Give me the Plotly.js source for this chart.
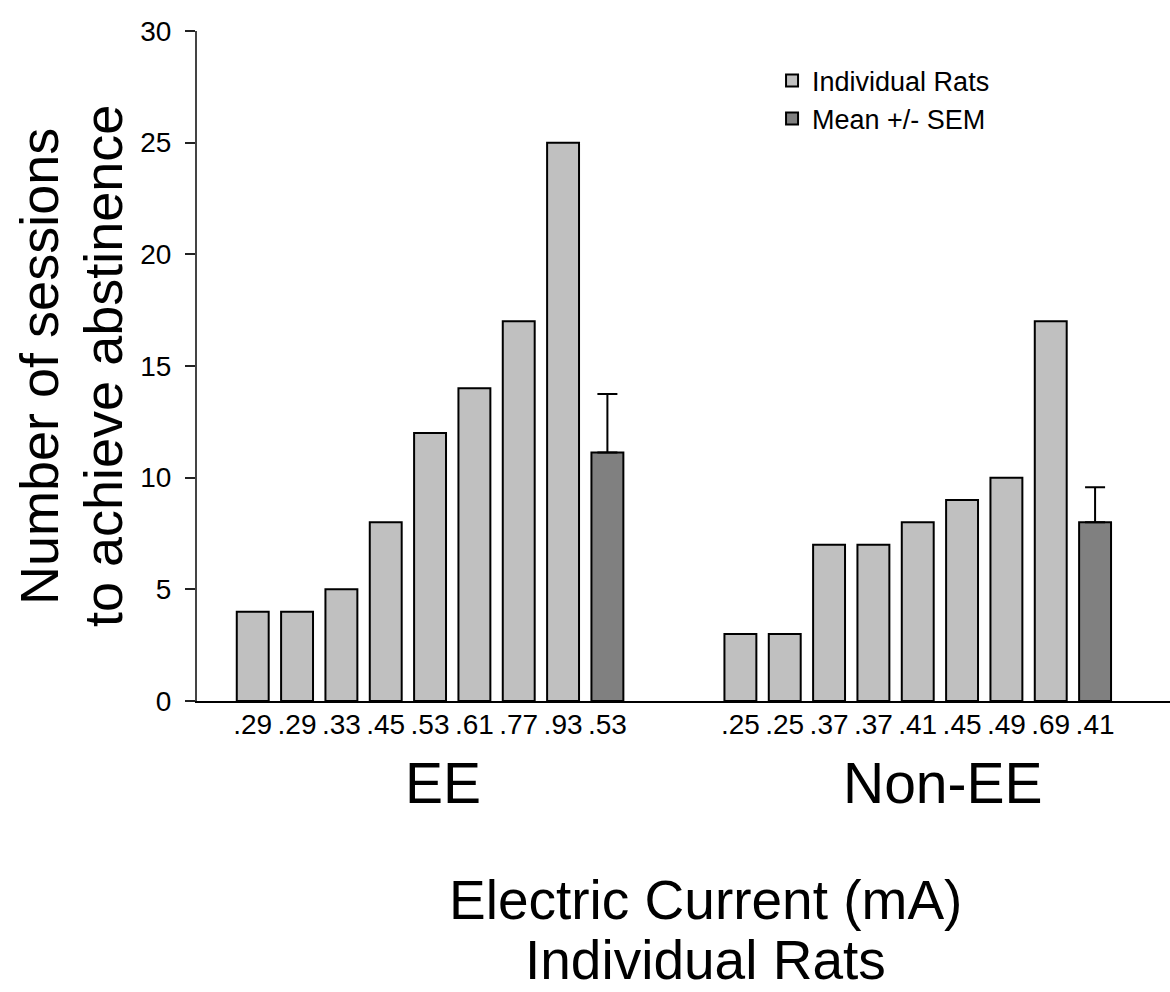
<!DOCTYPE html>
<html>
<head>
<meta charset="utf-8">
<script src="https://cdn.plot.ly/plotly-3.0.1.min.js"></script>
<style>
  html, body { margin: 0; padding: 0; background: #ffffff; }
  #chart { width: 1170px; height: 992px; }
</style>
</head>
<body>
<div id="chart"></div>
<script>
// ---- data ----
const groupNames = ['EE', 'Non-EE'];
const eeCurrents = ['.29', '.29', '.33', '.45', '.53', '.61', '.77', '.93'];
const eeSessions = [4, 4, 5, 8, 12, 14, 17, 25];
const eeMeanCurrent = '.53';
const eeMean = 11.13;
const eeSEM = 2.62;
const nonCurrents = ['.25', '.25', '.37', '.37', '.41', '.45', '.49', '.69'];
const nonSessions = [3, 3, 7, 7, 8, 9, 10, 17];
const nonMeanCurrent = '.41';
const nonMean = 8;
const nonSEM = 1.57;
const yTitleLines = ['Number of sessions', 'to achieve abstinence'];
const xTitleLines = ['Electric Current (mA)', 'Individual Rats'];
const legendNames = ['Individual Rats', 'Mean +/- SEM'];

// ---- layout: slot positions (EE group, 2 empty slots, Non-EE group) ----
const groupSize = eeSessions.length + 1;   // 8 rats + mean
const nonOffset = groupSize + 2;
const eeX = eeSessions.map((_, i) => i);
const nonX = nonSessions.map((_, i) => i + nonOffset);
const eeMeanX = eeSessions.length;
const nonMeanX = nonOffset + nonSessions.length;

const FONT = 'Liberation Sans, Arial, Helvetica, sans-serif';
const barW = 0.72;

const individual = {
  type: 'bar',
  name: legendNames[0],
  x: eeX.concat(nonX),
  y: eeSessions.concat(nonSessions),
  width: barW,
  marker: { color: '#c0c0c0', line: { color: '#000000', width: 2 } },
  hoverinfo: 'y'
};
const means = {
  type: 'bar',
  name: legendNames[1],
  x: [eeMeanX, nonMeanX],
  y: [eeMean, nonMean],
  width: barW,
  marker: { color: '#808080', line: { color: '#000000', width: 2 } },
  error_y: {
    type: 'data', symmetric: false,
    array: [eeSEM, nonSEM], arrayminus: [0, 0],
    color: '#000000', thickness: 2, width: 10
  },
  hoverinfo: 'y'
};

const tickvals = eeX.concat([eeMeanX], nonX, [nonMeanX]);
const ticktext = eeCurrents.concat([eeMeanCurrent], nonCurrents, [nonMeanCurrent]);

const eeCenter = (eeX[0] + eeMeanX) / 2 + 0.3;
const nonCenter = (nonX[0] + nonMeanX) / 2 + 0.57;

const layout = {
  width: 1170, height: 992,
  margin: { l: 197, r: 0, t: 31, b: 291, pad: 0 },
  paper_bgcolor: '#ffffff', plot_bgcolor: '#ffffff',
  font: { family: FONT, color: '#000000' },
  barmode: 'overlay',
  showlegend: true,
  legend: {
    x: 0.591, y: 0.962, xanchor: 'left', yanchor: 'top',
    font: { family: FONT, size: 27, color: '#000000' },
    bgcolor: 'rgba(0,0,0,0)', borderwidth: 0, tracegroupgap: 0
  },
  xaxis: {
    range: [-1.257, 20.69],
    tickmode: 'array', tickvals: tickvals, ticktext: ticktext,
    ticks: '', showgrid: false, zeroline: false,
    showline: true, linecolor: '#000000', linewidth: 2,
    ticklabelstandoff: -3,
    tickfont: { family: FONT, size: 28, color: '#000000' },
    fixedrange: true
  },
  yaxis: {
    range: [0, 30], tickvals: [0, 5, 10, 15, 20, 25, 30],
    ticks: 'outside', ticklen: 10, tickwidth: 2, tickcolor: '#222222',
    ticklabelstandoff: 8,
    showgrid: false, zeroline: false,
    showline: true, linecolor: '#444444', linewidth: 2,
    tickfont: { family: FONT, size: 28, color: '#000000' },
    fixedrange: true
  },
  annotations: [
    { text: groupNames[0], x: eeCenter, y: -0.123, xref: 'x', yref: 'paper',
      xanchor: 'center', yanchor: 'middle', showarrow: false,
      font: { family: FONT, size: 57, color: '#000000' } },
    { text: groupNames[1], x: nonCenter, y: -0.123, xref: 'x', yref: 'paper',
      xanchor: 'center', yanchor: 'middle', showarrow: false,
      font: { family: FONT, size: 57, color: '#000000' } },
    { text: xTitleLines[0], x: 0.523, y: -0.297, xref: 'paper', yref: 'paper',
      xanchor: 'center', yanchor: 'middle', showarrow: false,
      font: { family: FONT, size: 55, color: '#000000' } },
    { text: xTitleLines[1], x: 0.523, y: -0.386, xref: 'paper', yref: 'paper',
      xanchor: 'center', yanchor: 'middle', showarrow: false,
      font: { family: FONT, size: 55, color: '#000000' } },
    { text: yTitleLines[0], x: -0.1624, y: 0.5, xref: 'paper', yref: 'paper',
      xanchor: 'center', yanchor: 'middle', showarrow: false, textangle: -90,
      font: { family: FONT, size: 54, color: '#000000' } },
    { text: yTitleLines[1], x: -0.0966, y: 0.5, xref: 'paper', yref: 'paper',
      xanchor: 'center', yanchor: 'middle', showarrow: false, textangle: -90,
      font: { family: FONT, size: 54, color: '#000000' } }
  ]
};

Plotly.newPlot('chart', [individual, means], layout, { displayModeBar: false, staticPlot: true });
</script>
</body>
</html>
